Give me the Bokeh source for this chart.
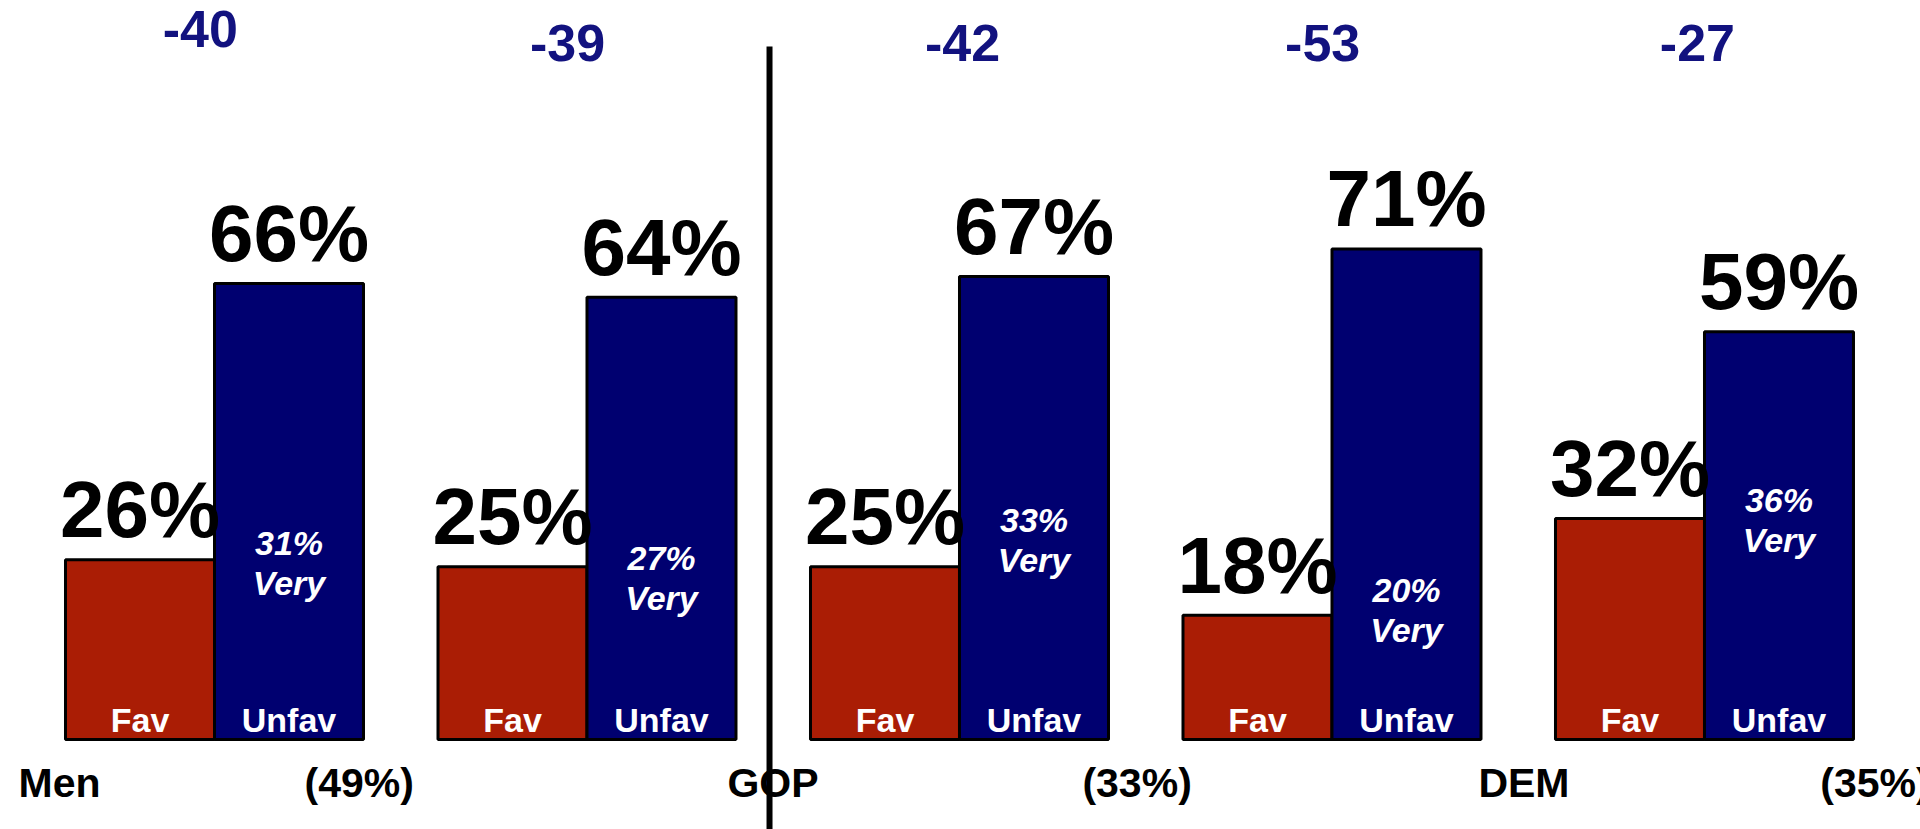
from bokeh.plotting import figure
from bokeh.models import Range1d, ColumnDataSource
from bokeh.core.properties import value
from bokeh.embed import file_html
from bokeh.resources import INLINE

# ---- data ----
groups = ["Men", "Women", "GOP", "IND", "DEM"]
fav = [26, 25, 25, 18, 32]
unfav = [66, 64, 67, 71, 59]
very_unfav = [31, 27, 33, 20, 36]
net = [-40, -39, -42, -53, -27]
bottom_labels = ["Men", "(49%)", "GOP", "(33%)", "DEM", "(35%)"]

# ---- layout (positions, separate from data) ----
W, H = 1920, 829
X0, X1 = -0.5745, 4.5799
Y0, Y1 = -13.02, 106.95
PXY = H / (Y1 - Y0)          # pixels per percentage point
BW = 0.4
net_x = [-0.038, 0.948, 2.008, 2.975, 3.981]
net_y = [102.8, 100.8, 100.8, 100.8, 100.8]
very_y = [28.4, 26.2, 31.7, 21.6, 34.6]
bottom_x = [-0.526, 0.2416, 1.377, 2.330, 3.393, 4.311]
bottom_y = -6.22
divider_x = 1.49
divider_top = 100.3

RED = "#AA1D05"
BLUE = "#000070"
NAVY = "#12127F"
FONT = value("Liberation Sans")


def lift(px):
    """screen pixels -> data units on y"""
    return px / PXY


p = figure(width=W, height=H, output_backend="svg", toolbar_location=None,
           x_range=Range1d(X0, X1), y_range=Range1d(Y0, Y1), min_border=0)
p.axis.visible = False
p.grid.visible = False
p.outline_line_color = None
p.background_fill_color = "white"
p.border_fill_color = "white"

idx = list(range(len(groups)))
fx = [i - BW / 2 for i in idx]
ux = [i + BW / 2 for i in idx]

src = ColumnDataSource(dict(
    fx=fx, ux=ux, fav=fav, unfav=unfav,
    fav_lbl=[f"{v}%" for v in fav],
    unfav_lbl=[f"{v}%" for v in unfav],
    fav_ly=[v + lift(50) for v in fav],
    unfav_ly=[v + lift(50) for v in unfav],
    very_lbl=[f"{v}%" for v in very_unfav],
    very_y=very_y,
    very2_y=[v - lift(40) for v in very_y],
    very2=["Very"] * len(groups),
    fav_name=["Fav"] * len(groups),
    unfav_name=["Unfav"] * len(groups),
    name_y=[lift(20)] * len(groups),
    net_lbl=[str(v) for v in net],
    net_x=net_x, net_y=net_y,
))

p.vbar(x="fx", top="fav", bottom=0, width=BW, source=src,
       fill_color=RED, line_color="black", line_width=3)
p.vbar(x="ux", top="unfav", bottom=0, width=BW, source=src,
       fill_color=BLUE, line_color="black", line_width=3)

# value labels above bars
for xcol, ycol, tcol in (("fx", "fav_ly", "fav_lbl"), ("ux", "unfav_ly", "unfav_lbl")):
    p.text(x=xcol, y=ycol, text=tcol, source=src, text_font=FONT,
           text_font_size="80px", text_font_style="bold", text_color="black",
           text_align="center", text_baseline="middle")

# "Very" unfavorable labels inside blue bars
p.text(x="ux", y="very_y", text="very_lbl", source=src, text_font=FONT,
       text_font_size="34px", text_font_style="bold italic", text_color="white",
       text_align="center", text_baseline="middle")
p.text(x="ux", y="very2_y", text="very2", source=src, text_font=FONT,
       text_font_size="34px", text_font_style="bold italic", text_color="white",
       text_align="center", text_baseline="middle")

# Fav / Unfav names inside bars
p.text(x="fx", y="name_y", text="fav_name", source=src, text_font=FONT,
       text_font_size="34px", text_font_style="bold", text_color="white",
       text_align="center", text_baseline="middle")
p.text(x="ux", y="name_y", text="unfav_name", source=src, text_font=FONT,
       text_font_size="34px", text_font_style="bold", text_color="white",
       text_align="center", text_baseline="middle")

# net differences on top
p.text(x="net_x", y="net_y", text="net_lbl", source=src, text_font=FONT,
       text_font_size="52px", text_font_style="bold", text_color=NAVY,
       text_align="center", text_baseline="middle")

# bottom category labels
p.text(x=bottom_x, y=[bottom_y] * len(bottom_labels),
       text=bottom_labels, text_font=FONT, text_font_size="41px",
       text_font_style="bold", text_color="black", text_align="left",
       text_baseline="middle")

# divider
p.segment(x0=[divider_x], y0=[Y0 - 5], x1=[divider_x], y1=[divider_top],
          line_color="black", line_width=6)

open("out.html", "w").write(file_html(p, INLINE))
